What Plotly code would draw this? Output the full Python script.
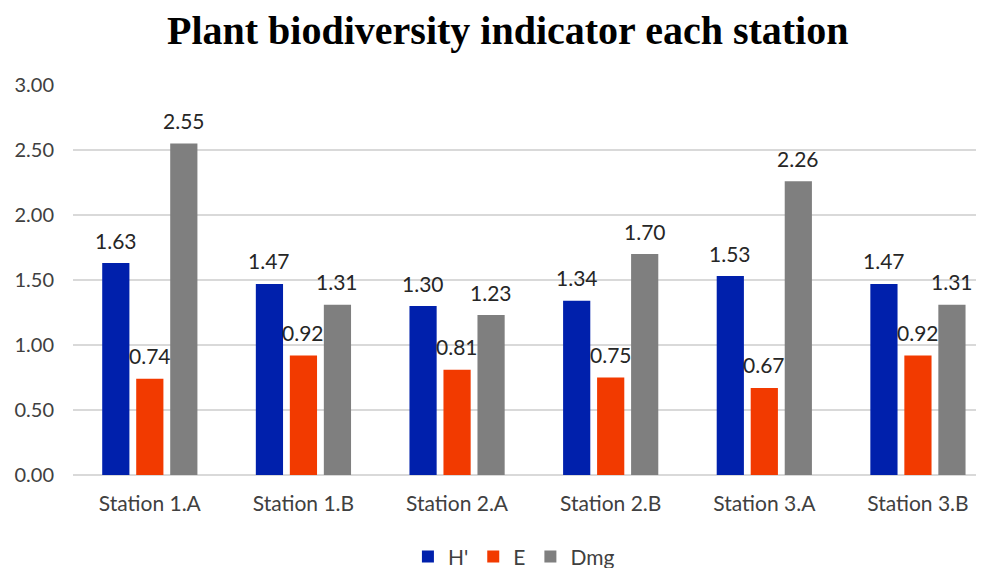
import plotly.graph_objects as go

stations = ["Station 1.A", "Station 1.B", "Station 2.A", "Station 2.B", "Station 3.A", "Station 3.B"]
h_prime = [1.63, 1.47, 1.30, 1.34, 1.53, 1.47]
evenness = [0.74, 0.92, 0.81, 0.75, 0.67, 0.92]
dmg = [2.55, 1.31, 1.23, 1.70, 2.26, 1.31]
y_ticks = [0, 0.5, 1.0, 1.5, 2.0, 2.5, 3.0]

series = [("H'", h_prime, "#0020AC"), ("E", evenness, "#F23A00"), ("Dmg", dmg, "#7F7F7F")]

FONT = "Lato, Open Sans, sans-serif"

fig = go.Figure()
for name, vals, col in series:
    fig.add_trace(go.Bar(x=stations, y=vals, name=name, marker=dict(color=col, line=dict(width=0))))

slot = 34
for i, (name, vals, col) in enumerate(series):
    for s, v in zip(stations, vals):
        fig.add_annotation(x=s, y=v, text=f"{v:.2f}", showarrow=False, xshift=(i - 1) * slot,
                           yshift=23, font=dict(family=FONT, size=21, color="#262626"))

fig.update_layout(
    width=976, height=560,
    margin=dict(l=65, r=0, t=77, b=93, autoexpand=False),
    paper_bgcolor="white", plot_bgcolor="white",
    barmode="group", bargap=0.336, bargroupgap=0.2,
    title=dict(text="<b>Plant biodiversity indicator each station</b>", x=0.512, xanchor="center",
               y=0.961, yanchor="middle",
               font=dict(family="Liberation Serif, Times New Roman, serif", size=40, color="black")),
    legend=dict(orientation="h", x=0.484, xanchor="center", y=-0.21, yanchor="middle",
                font=dict(family=FONT, size=21, color="#404040"),
                itemwidth=30, tracegroupgap=0, traceorder="normal"),
    showlegend=True,
)
fig.update_yaxes(range=[0, 3.0], tickvals=y_ticks, ticktext=[f"{t:.2f}" for t in y_ticks],
                 showgrid=True, gridcolor="#D9D9D9", gridwidth=1.5, zeroline=True, zerolinecolor="#D9D9D9",
                 zerolinewidth=1.5, showline=False, ticklabelstandoff=18, automargin=False,
                 tickfont=dict(family=FONT, size=20, color="#404040"))
fig.update_xaxes(range=[-0.5, 5.43], showgrid=False, showline=False, ticklabelstandoff=14, automargin=False,
                 tickfont=dict(family=FONT, size=21, color="#404040"))

fig.write_html("out.html")
